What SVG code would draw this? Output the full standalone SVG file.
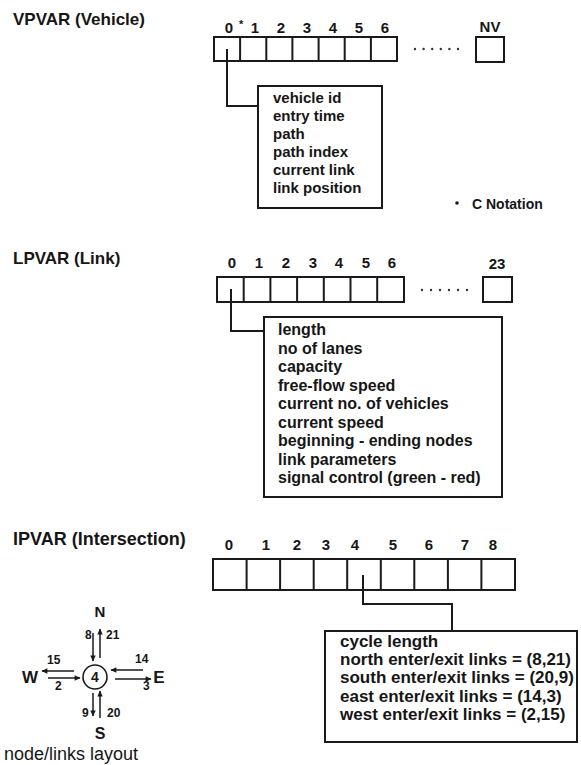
<svg xmlns="http://www.w3.org/2000/svg" width="581" height="765" viewBox="0 0 581 765">
<style>
.t{font-family:"Liberation Sans",Arial,Helvetica,sans-serif;font-weight:bold;fill:#161616}
.r{font-family:"Liberation Sans",Arial,Helvetica,sans-serif;font-weight:normal;fill:#161616}
.m{text-anchor:middle}
.cell{fill:none;stroke:#1a1a1a;stroke-width:2}
.box{fill:#fff;stroke:#1a1a1a;stroke-width:2}
.conn{fill:none;stroke:#1a1a1a;stroke-width:2}
.arr{fill:none;stroke:#1a1a1a;stroke-width:1.5;marker-end:url(#ah)}
.dot{fill:#333}
</style>
<defs>
<marker id="ah" viewBox="0 0 10 10" refX="9" refY="5" markerWidth="7" markerHeight="6" orient="auto" markerUnits="userSpaceOnUse">
<path d="M0,0.5 L10,5 L0,9.5 z" fill="#1a1a1a"/>
</marker>
</defs>
<rect width="581" height="765" fill="#fff"/>

<g id="connectors">
<path class="conn" d="M227,49 V106 H258"/>
<path class="conn" d="M231,289 V331 H264"/>
<path class="conn" d="M363,575 V604 H452 V631"/>
</g>

<g id="vpvar">
<text class="t" x="13" y="25" font-size="17">VPVAR (Vehicle)</text>
<g class="t m" font-size="15">
<text x="229" y="33">0</text><text x="255" y="33">1</text><text x="281" y="33">2</text><text x="307" y="33">3</text><text x="333" y="33">4</text><text x="359" y="33">5</text><text x="385" y="33">6</text><text x="490" y="32">NV</text>
</g>
<text class="t" x="239" y="28" font-size="11">*</text>
<g id="vpvar-array">
<rect class="cell" x="214" y="37" width="183" height="24"/>
<path class="cell" d="M240.1,37V61M266.3,37V61M292.4,37V61M318.6,37V61M344.7,37V61M370.9,37V61"/>
</g>
<g class="dot"><circle cx="415" cy="49" r="1.2"/><circle cx="423.6" cy="49" r="1.2"/><circle cx="432.2" cy="49" r="1.2"/><circle cx="440.8" cy="49" r="1.2"/><circle cx="449.4" cy="49" r="1.2"/><circle cx="458" cy="49" r="1.2"/></g>
<rect id="vpvar-nv" class="cell" x="476" y="37" width="28" height="25"/>
</g>

<g id="vpvar-box">
<rect class="box" x="258" y="86" width="124" height="122"/>
<g class="t" font-size="15">
<text x="273" y="103">vehicle id</text>
<text x="273" y="121">entry time</text>
<text x="273" y="139">path</text>
<text x="273" y="157">path index</text>
<text x="273" y="175">current link</text>
<text x="273" y="193">link position</text>
</g>
</g>

<g id="c-notation">
<circle cx="457" cy="203" r="1.8" fill="#1a1a1a"/>
<text class="t" x="472" y="209" font-size="14">C Notation</text>
</g>

<g id="lpvar">
<text class="t" x="13" y="264" font-size="17">LPVAR (Link)</text>
<g class="t m" font-size="15">
<text x="232" y="268">0</text><text x="259" y="268">1</text><text x="286" y="268">2</text><text x="313" y="268">3</text><text x="339" y="268">4</text><text x="366" y="268">5</text><text x="392" y="268">6</text><text x="497" y="269">23</text>
</g>
<g id="lpvar-array">
<rect class="cell" x="217" y="277" width="187" height="25"/>
<path class="cell" d="M243.7,277V302M270.4,277V302M297.1,277V302M323.8,277V302M350.5,277V302M377.2,277V302"/>
</g>
<g class="dot"><circle cx="422" cy="290" r="1.2"/><circle cx="431" cy="290" r="1.2"/><circle cx="440" cy="290" r="1.2"/><circle cx="449" cy="290" r="1.2"/><circle cx="458" cy="290" r="1.2"/><circle cx="467" cy="290" r="1.2"/></g>
<rect id="lpvar-23" class="cell" x="483" y="277" width="29" height="25"/>
</g>

<g id="lpvar-box">
<rect class="box" x="264" y="317" width="238" height="180"/>
<g class="t" font-size="16">
<text x="278" y="335">length</text>
<text x="278" y="353.5">no of lanes</text>
<text x="278" y="372">capacity</text>
<text x="278" y="390.5">free-flow speed</text>
<text x="278" y="409">current no. of vehicles</text>
<text x="278" y="427.5">current speed</text>
<text x="278" y="446">beginning - ending nodes</text>
<text x="278" y="464.5">link parameters</text>
<text x="278" y="483">signal control (green - red)</text>
</g>
</g>

<g id="ipvar">
<text class="t" x="13" y="545" font-size="18">IPVAR (Intersection)</text>
<g class="t m" font-size="15">
<text x="229" y="550">0</text><text x="266" y="550">1</text><text x="297" y="550">2</text><text x="326" y="550">3</text><text x="355" y="550">4</text><text x="393" y="550">5</text><text x="429" y="550">6</text><text x="465" y="550">7</text><text x="493" y="550">8</text>
</g>
<g id="ipvar-array">
<rect class="cell" x="213" y="559" width="302" height="31"/>
<path class="cell" d="M246.6,559V590M280.1,559V590M313.7,559V590M347.2,559V590M380.8,559V590M414.3,559V590M447.9,559V590M481.4,559V590"/>
</g>
</g>

<g id="ipvar-box">
<rect class="box" x="325" y="631" width="252" height="111"/>
<g class="t" font-size="17">
<text x="340" y="647">cycle length</text>
<text x="340" y="665">north enter/exit links = (8,21)</text>
<text x="340" y="683">south enter/exit links = (20,9)</text>
<text x="340" y="702">east enter/exit links = (14,3)</text>
<text x="340" y="720">west enter/exit links = (2,15)</text>
</g>
</g>

<g id="node-layout">
<circle cx="95" cy="677" r="12" fill="none" stroke="#1a1a1a" stroke-width="1.6"/>
<text class="t m" x="95" y="682" font-size="14">4</text>
<g class="t m">
<text x="100" y="617" font-size="15">N</text>
<text x="100" y="739" font-size="16">S</text>
<text x="30" y="683" font-size="17">W</text>
<text x="159" y="683" font-size="17">E</text>
</g>
<g class="t" font-size="12">
<text x="85" y="639">8</text>
<text x="106" y="639">21</text>
<text x="47" y="664">15</text>
<text x="55" y="690">2</text>
<text x="135" y="663">14</text>
<text x="143" y="690">3</text>
<text x="82" y="717">9</text>
<text x="107" y="717">20</text>
</g>
<g id="node-arrows">
<path class="arr" d="M93,633 V661"/>
<path class="arr" d="M100,658 V629"/>
<path class="arr" d="M74,671 H42"/>
<path class="arr" d="M48,678 H80"/>
<path class="arr" d="M143,670 H111"/>
<path class="arr" d="M115,679 H151"/>
<path class="arr" d="M93,693 V716"/>
<path class="arr" d="M100,718 V691"/>
</g>
<text class="r" x="4" y="760" font-size="18">node/links layout</text>
</g>
</svg>
